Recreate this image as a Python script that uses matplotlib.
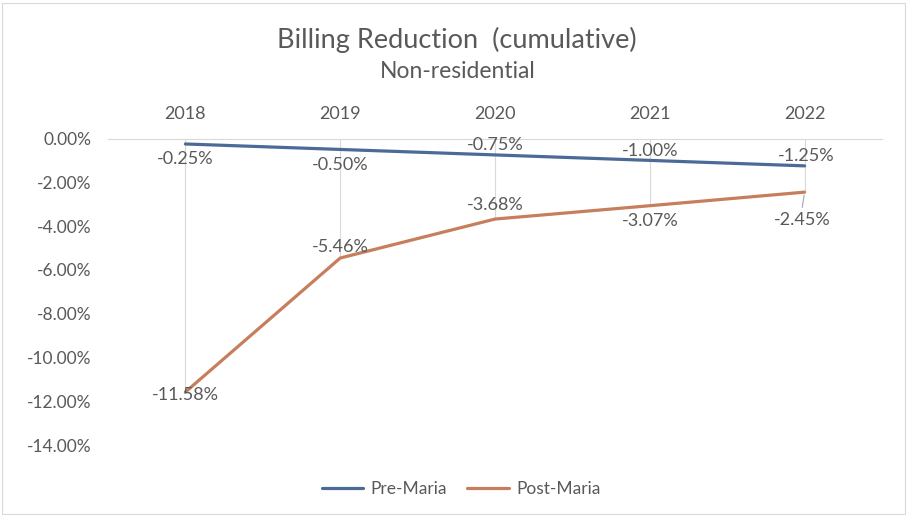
import matplotlib
matplotlib.use("Agg")
import matplotlib.pyplot as plt
import numpy as np

plt.rcParams['font.family'] = ['Lato', 'DejaVu Sans']

years = ["2018", "2019", "2020", "2021", "2022"]
pre_maria = [-0.25, -0.50, -0.75, -1.00, -1.25]
post_maria = [-11.58, -5.46, -3.68, -3.07, -2.45]
y_ticks = [0, -2, -4, -6, -8, -10, -12, -14]

# label offsets (points) for data labels
pre_offsets = [(0, -11), (0, -11), (0, 7), (0, 7), (1, 7)]
post_offsets = [(0, -2), (0, 8), (0, 10), (0, -11), (-2, -20)]

gray = "#595959"
c_pre = "#4C6A97"
c_post = "#C67E5C"

fig = plt.figure(figsize=(9.07, 5.15), dpi=100)
W, H = 907, 515
left, right, top, bottom = 108, 882, 138.5, 445
ax = fig.add_axes([left / W, 1 - bottom / H, (right - left) / W, (bottom - top) / H])

x = np.arange(len(years))
ax.set_xlim(-0.5, len(years) - 0.5)
ax.set_ylim(-14, 0)

# drop lines
lows = [min(a, b) for a, b in zip(pre_maria, post_maria)]
ax.vlines(x, lows, 0, colors="#D9D9D9", linewidth=0.8, zorder=1)

ax.plot(x, pre_maria, color=c_pre, linewidth=2.3, label="Pre-Maria", zorder=3,
        solid_capstyle="round")
ax.plot(x, post_maria, color=c_post, linewidth=2.3, label="Post-Maria", zorder=3,
        solid_capstyle="round")

for xi, v, off in zip(x, pre_maria, pre_offsets):
    ax.annotate(f"{v:.2f}%", (xi, v), xytext=off, textcoords="offset points",
                ha="center", va="center", fontsize=13, color=gray, zorder=4)
for i, (xi, v, off) in enumerate(zip(x, post_maria, post_offsets)):
    ax.annotate(f"{v:.2f}%", (xi, v), xytext=off, textcoords="offset points",
                ha="center", va="center", fontsize=13, color=gray, zorder=4)
# leader line for last post label
ax.annotate("", (x[-1], post_maria[-1]), xytext=(-2, -13), textcoords="offset points",
            arrowprops=dict(arrowstyle="-", color="#A6A6A6", lw=0.8))

ax.set_yticks(y_ticks)
ax.set_yticklabels([f"{t:.2f}%" for t in y_ticks])
ax.set_xticks(x)
ax.set_xticklabels(years)
ax.xaxis.tick_top()
ax.tick_params(axis="x", length=0, pad=12, labelsize=13, labelcolor=gray)
ax.tick_params(axis="y", length=0, pad=12, labelsize=12.5, labelcolor=gray)
for s in ["left", "right", "bottom"]:
    ax.spines[s].set_visible(False)
ax.spines["top"].set_color("#D9D9D9")
ax.spines["top"].set_linewidth(0.8)

fig.text(457 / W, 1 - 40 / H, "Billing Reduction  (cumulative)", ha="center", va="center",
         fontsize=19.5, color=gray)
fig.text(458 / W, 1 - 71 / H, "Non-residential", ha="center", va="center",
         fontsize=16.5, color=gray)

leg = fig.legend(loc="center", bbox_to_anchor=(461 / W, 1 - 489 / H), ncol=2, frameon=False,
                 fontsize=12.5, handlelength=2.4, columnspacing=1.2, handletextpad=0.4)
for t in leg.get_texts():
    t.set_color(gray)

# chart border
fig.patches.append(plt.Rectangle((2 / W, 1 / H), 903 / W, 511 / H, transform=fig.transFigure,
                                 fill=False, edgecolor="#D9D9D9", linewidth=0.8))

fig.savefig("out.png", dpi=100, facecolor="white")
